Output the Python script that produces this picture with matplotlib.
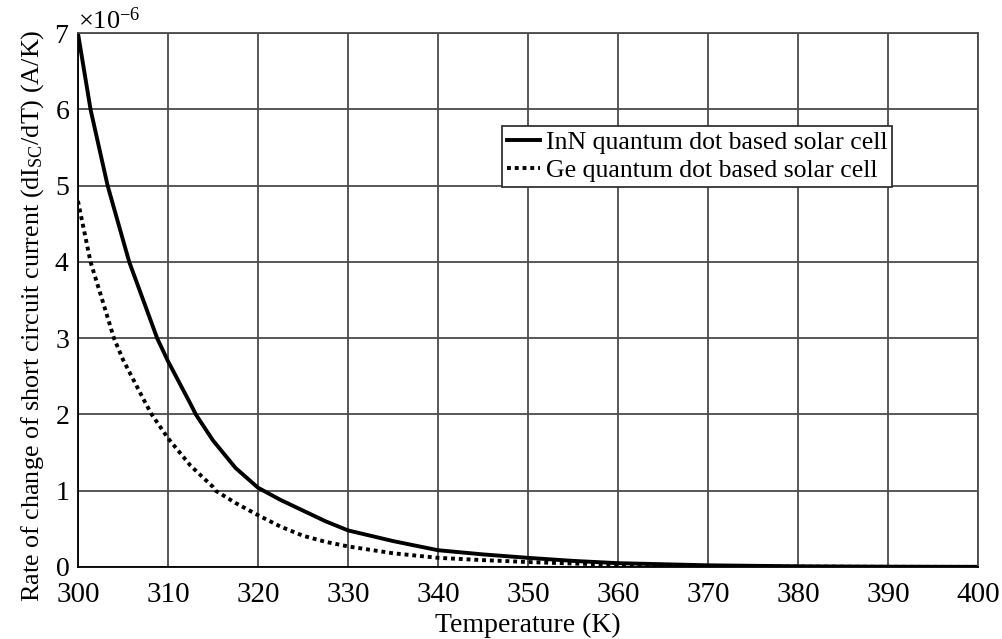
import matplotlib
matplotlib.use("Agg")
import matplotlib.pyplot as plt
from matplotlib.ticker import ScalarFormatter

# temperatures (K) and dIsc/dT (x1e-6 A/K)
inn_temps = [300, 301.4, 302.5, 303.3, 305, 305.7, 307.5, 308.8, 310, 312.5,
             313.1, 315, 317.5, 320, 322.5, 325, 327.5, 330, 335, 340, 345,
             350, 355, 360, 370, 380, 390, 400]
inn_rate = [7.0, 6.0, 5.42, 5.0, 4.29, 4.0, 3.42, 3.0, 2.70, 2.14,
            2.0, 1.66, 1.30, 1.04, 0.88, 0.74, 0.60, 0.48, 0.34, 0.22, 0.165,
            0.12, 0.08, 0.05, 0.022, 0.009, 0.004, 0.002]
ge_temps = [300, 301.4, 302.5, 304, 305, 307.5, 308.2, 310, 312.5, 315,
            315.3, 317.5, 320, 322.5, 325, 327.5, 330, 335, 340, 345, 350,
            355, 360, 370, 380, 390, 400]
ge_rate = [4.8, 4.0, 3.58, 3.0, 2.72, 2.15, 2.0, 1.69, 1.33, 1.05,
           1.0, 0.84, 0.68, 0.53, 0.41, 0.33, 0.27, 0.18, 0.12, 0.09, 0.065,
           0.045, 0.03, 0.012, 0.005, 0.002, 0.001]
scale = 1e-6

x_ticks = list(range(300, 401, 10))
y_ticks = [v * scale for v in range(0, 8)]

plt.rcParams["font.family"] = ["Liberation Serif", "DejaVu Serif"]
plt.rcParams["mathtext.fontset"] = "custom"
plt.rcParams["mathtext.rm"] = "Liberation Serif"
plt.rcParams["mathtext.it"] = "Liberation Serif:italic"

fig = plt.figure(figsize=(10.02, 6.39), dpi=100)
ax = fig.add_axes([0.0778, 0.1127, 0.8982, 0.8353])

ax.plot(inn_temps, [v * scale for v in inn_rate], color="black", lw=2.8,
        label="InN quantum dot based solar cell")
ax.plot(ge_temps, [v * scale for v in ge_rate], color="black", lw=2.8,
        linestyle=(0, (1, 1)), label="Ge quantum dot based solar cell")

ax.set_xlim(300, 400)
ax.set_ylim(0, 7 * scale)
ax.set_xticks(x_ticks)
ax.set_yticks(y_ticks)

fmt = ScalarFormatter(useMathText=True)
fmt.set_powerlimits((0, 0))
ax.yaxis.set_major_formatter(fmt)
ax.yaxis.get_offset_text().set_fontsize(19)

ax.grid(True, color="#4a4a4a", lw=1.3)
ax.set_axisbelow(True)
ax.tick_params(axis="x", length=0, labelsize=21, pad=11)
ax.tick_params(axis="y", length=0, labelsize=20, pad=6)
for s in ax.spines.values():
    s.set_color("#4a4a4a")
    s.set_linewidth(1.3)
ax.spines["left"].set_color("black")
ax.spines["bottom"].set_color("black")

ax.set_xlabel("Temperature (K)", fontsize=20, labelpad=3)
ax.set_ylabel(r"Rate of change of short circuit current (dI$_{\mathrm{SC}}$/dT) (A/K)",
              fontsize=18.8, labelpad=6, y=0.47)

leg = ax.legend(loc="upper left", bbox_to_anchor=(0.471, 0.826), fontsize=18.5,
                frameon=True, fancybox=False, handlelength=1.3, handletextpad=0.2,
                borderpad=0.2, labelspacing=0.2, borderaxespad=0)
leg.get_frame().set_edgecolor("#333333")
leg.get_frame().set_linewidth(1.3)
leg.get_frame().set_alpha(1)

fig.savefig("out.png", dpi=100)
